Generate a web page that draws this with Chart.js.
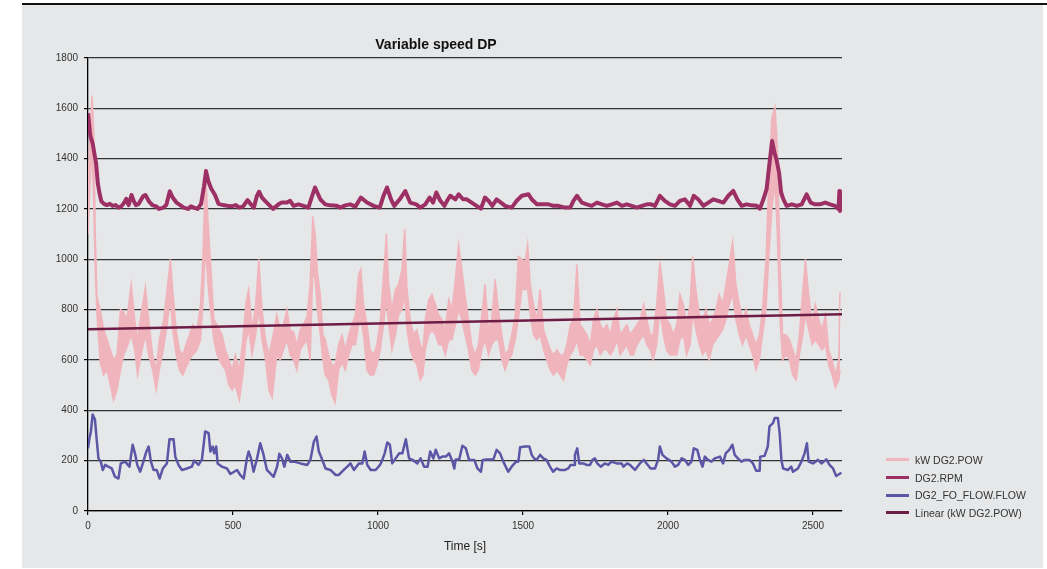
<!DOCTYPE html>
<html><head><meta charset="utf-8">
<script src="https://cdn.jsdelivr.net/npm/chart.js@4"></script>
<style>
html,body{margin:0;padding:0;background:#fff;width:1047px;height:569px;overflow:hidden;}
#panel{position:absolute;left:22px;top:5px;width:1021px;height:563px;background:#e6e7e8;}
#topline{position:absolute;left:22px;top:3px;width:1025px;height:2px;background:#111;}
#wrap{position:absolute;left:0;top:0;width:1047px;height:569px;}
#legend{position:absolute;left:886px;top:451px;font:10.5px "Liberation Sans",Arial,sans-serif;color:#333;}
.row{height:17.7px;display:flex;align-items:center;white-space:nowrap;}
.sw{width:23px;height:3px;margin-right:6px;}
</style></head>
<body>
<div id="panel"></div>
<div id="topline"></div>
<div id="wrap"><canvas id="c" width="1047" height="569"></canvas></div>
<div id="legend"></div>
<script>
// ---- data ----
const powT = [0,5,14,20,25,31,42,54,66,77,88,100,112,123,134,149,161,171,183,198,209,223,235,246,261,273,284,292,304,315,327,338,350,361,376,388,396,405,414,422,434,445,462,474,486,497,508,522,534,545,554,566,578,589,600,612,624,635,651,663,674,686,697,709,720,732,743,755,766,775,783,791,801,810,818,830,841,852,864,876,887,899,910,922,933,941,950,962,973,985,996,1008,1017,1029,1037,1048,1060,1071,1083,1092,1100,1111,1123,1134,1146,1155,1163,1175,1186,1198,1209,1221,1232,1244,1255,1267,1278,1289,1300,1312,1323,1335,1346,1358,1369,1381,1392,1404,1415,1427,1438,1450,1461,1473,1484,1496,1507,1516,1525,1536,1548,1559,1571,1582,1594,1605,1617,1628,1640,1651,1663,1674,1686,1697,1709,1720,1732,1743,1755,1766,1778,1789,1801,1812,1824,1835,1847,1858,1870,1881,1893,1904,1916,1927,1939,1949,1961,1972,1984,1995,2007,2018,2030,2041,2053,2064,2076,2085,2096,2108,2119,2131,2142,2154,2165,2177,2188,2200,2211,2223,2234,2246,2257,2269,2280,2292,2303,2315,2326,2338,2347,2358,2369,2377,2386,2395,2407,2419,2430,2442,2453,2465,2474,2485,2497,2508,2520,2531,2543,2554,2566,2577,2589,2593];
const powHi = [1250,1450,1650,1500,1100,850,800,720,680,640,600,620,800,790,760,900,760,680,780,890,760,620,560,680,760,880,1000,880,720,640,620,660,700,740,720,820,1000,1360,1150,1000,760,740,700,640,600,560,620,560,680,830,880,720,820,1000,800,680,620,680,780,720,740,800,720,710,660,720,740,770,900,1170,1100,950,860,700,680,620,580,580,660,700,640,700,740,780,940,960,820,740,640,620,660,760,900,1100,900,800,880,900,960,1120,880,760,700,720,660,640,760,840,860,820,780,760,720,840,800,920,1060,960,860,760,660,620,660,780,900,720,760,920,800,700,620,640,700,780,1010,1000,990,1060,900,820,760,880,720,680,640,620,640,620,620,660,740,760,980,740,720,700,660,760,800,740,720,740,700,760,800,700,720,740,700,720,740,760,820,760,700,700,820,990,880,760,740,700,740,860,820,740,820,1010,880,780,760,800,740,760,800,860,820,900,980,1070,900,820,760,800,740,700,660,700,800,1000,1300,1560,1605,1450,1000,700,700,680,640,600,700,880,1000,860,740,820,760,720,780,640,600,540,600,870];
const powLo = [1100,1250,1450,1200,950,780,590,540,560,500,440,480,560,620,650,700,640,540,620,700,620,560,480,560,650,740,850,720,620,560,540,570,600,620,640,680,820,1050,900,800,680,620,580,560,500,480,500,440,540,680,720,620,700,800,680,600,480,450,620,600,640,680,620,600,560,640,660,680,600,950,920,800,700,600,540,520,460,430,560,590,560,620,660,660,740,760,700,560,540,540,580,640,720,840,740,640,700,780,800,860,720,640,600,580,520,540,640,700,720,700,660,660,620,680,680,740,800,760,700,640,560,540,560,640,680,620,660,680,680,600,560,600,620,680,760,880,880,880,780,700,680,700,640,600,560,540,560,540,520,580,620,640,680,620,620,600,580,640,660,620,640,640,620,640,680,620,640,660,620,620,660,680,700,660,640,600,660,800,700,640,620,620,620,680,700,620,660,780,720,660,620,640,600,660,680,700,720,760,820,860,760,700,660,700,660,620,560,600,700,800,1000,1200,1300,1100,760,600,620,600,540,520,620,700,780,720,660,680,660,640,660,580,540,490,520,560];
const rpmT = [0,8,16,22,28,34,40,46,55,65,75,85,95,105,115,125,132,140,150,158,165,175,190,198,210,222,235,245,260,270,282,292,305,318,330,345,355,365,378,390,400,407,415,425,438,450,465,480,495,510,522,535,550,560,572,582,590,600,612,625,638,657,668,686,697,709,726,743,760,769,783,801,818,835,858,870,887,904,922,941,962,985,1006,1019,1031,1045,1056,1075,1094,1111,1132,1146,1163,1178,1190,1201,1215,1229,1238,1249,1267,1278,1293,1306,1323,1340,1355,1369,1381,1394,1409,1424,1438,1461,1478,1496,1519,1530,1548,1571,1588,1605,1622,1645,1663,1674,1686,1703,1720,1737,1755,1772,1789,1806,1824,1841,1858,1875,1893,1910,1927,1942,1955,1972,1989,2007,2024,2041,2058,2076,2089,2104,2122,2139,2156,2173,2191,2208,2225,2239,2254,2271,2288,2306,2317,2329,2340,2349,2359,2367,2375,2383,2390,2398,2409,2427,2444,2461,2478,2492,2507,2524,2542,2559,2576,2588,2591,2593];
const rpmV = [1580,1490,1460,1420,1380,1300,1260,1230,1220,1215,1220,1212,1215,1205,1210,1225,1240,1215,1255,1230,1215,1220,1250,1255,1230,1215,1210,1200,1205,1215,1270,1245,1225,1215,1205,1200,1210,1205,1200,1220,1290,1350,1310,1280,1255,1220,1215,1212,1210,1215,1205,1210,1235,1220,1205,1250,1268,1245,1230,1215,1200,1218,1225,1225,1232,1212,1218,1212,1205,1238,1285,1238,1218,1214,1212,1205,1214,1218,1209,1245,1225,1212,1205,1252,1285,1238,1212,1238,1271,1225,1218,1205,1218,1245,1225,1265,1232,1212,1232,1252,1238,1258,1238,1238,1225,1212,1201,1245,1232,1212,1238,1225,1212,1205,1232,1252,1258,1238,1218,1218,1218,1212,1212,1205,1205,1232,1252,1225,1218,1212,1225,1218,1212,1218,1225,1212,1218,1212,1205,1212,1218,1218,1212,1252,1232,1218,1212,1232,1238,1212,1252,1238,1212,1225,1238,1232,1225,1252,1271,1238,1212,1218,1214,1212,1201,1238,1278,1371,1470,1424,1391,1344,1265,1238,1212,1218,1212,1218,1258,1225,1218,1218,1225,1218,1212,1199,1271,1192];
const flowT = [0,5,10,16,24,30,36,44,51,59,70,82,93,105,113,128,143,147,154,162,170,180,191,200,209,217,226,237,247,258,272,281,295,301,312,324,341,358,366,381,393,404,416,422,430,435,442,447,462,479,491,514,525,537,548,554,562,571,583,594,604,617,640,652,660,669,677,687,698,710,733,756,767,779,788,796,808,819,836,854,865,882,894,905,917,934,946,954,963,975,992,1007,1015,1023,1032,1041,1049,1061,1073,1084,1096,1107,1119,1136,1147,1159,1171,1180,1191,1199,1211,1222,1234,1245,1257,1263,1268,1280,1291,1303,1314,1332,1343,1355,1361,1375,1398,1409,1421,1432,1449,1461,1476,1484,1490,1507,1522,1530,1538,1547,1559,1570,1581,1593,1604,1616,1627,1645,1656,1664,1676,1679,1687,1694,1708,1719,1731,1740,1748,1756,1768,1782,1794,1805,1823,1840,1846,1859,1869,1886,1903,1917,1926,1940,1955,1966,1972,1981,1995,2012,2024,2035,2047,2058,2070,2081,2089,2101,2110,2119,2127,2138,2150,2161,2179,2190,2199,2211,2222,2230,2241,2253,2264,2281,2293,2304,2316,2318,2333,2344,2350,2362,2368,2379,2385,2391,2397,2414,2425,2431,2448,2460,2471,2479,2485,2500,2517,2529,2546,2557,2569,2580,2598];
const flowV = [249,289,316,383,363,283,209,196,163,183,176,169,136,129,189,196,176,209,263,229,183,156,196,232,256,196,163,163,129,169,189,285,285,216,183,163,169,176,200,183,205,316,309,236,256,229,256,189,176,169,147,163,143,129,209,236,209,156,209,269,229,163,136,176,227,209,176,223,196,196,189,183,203,276,296,236,203,169,163,143,143,163,176,189,163,189,189,236,183,163,163,183,203,229,272,263,189,209,229,229,285,209,203,189,209,176,176,236,209,243,209,216,216,229,196,169,205,205,259,249,203,203,169,156,203,205,205,243,229,196,156,176,196,196,253,256,256,223,209,203,223,209,203,176,156,169,163,163,169,183,183,223,249,189,189,183,183,203,209,189,176,189,183,196,189,189,176,189,183,163,189,203,189,169,169,203,256,223,209,196,176,183,209,203,183,196,249,243,203,176,216,203,196,209,216,189,229,243,263,223,209,196,203,203,189,160,160,216,219,256,336,349,369,369,309,203,169,163,176,156,169,196,229,269,196,189,203,189,205,183,169,139,152];
const trendT = [0, 2600];
const trendV = [722, 781];
const xTicks = [0, 500, 1000, 1500, 2000, 2500];
const yTicks = [0, 200, 400, 600, 800, 1000, 1200, 1400, 1600, 1800];
const xMin = 0, xMax = 2600;
const yMin = 0, yMax = 1800;
const seriesNames = ['kW DG2.POW', 'DG2.RPM', 'DG2_FO_FLOW.FLOW', 'Linear (kW DG2.POW)'];
const seriesColors = ['#f0b5bc', '#9c3065', '#5b56a6', '#6d1c46'];

const zip = (t, v) => t.map((x, i) => ({x: x, y: v[i]}));
const FONT = '"Liberation Sans", Arial, sans-serif';

new Chart(document.getElementById('c'), {
  type: 'line',
  data: {
    datasets: [
      {label: seriesNames[0], data: zip(powT, powHi), borderColor: seriesColors[0], backgroundColor: seriesColors[0], borderWidth: 1.5, pointRadius: 0, fill: '+1', order: 4, tension: 0},
      {label: seriesNames[0] + ' (low)', data: zip(powT, powLo), borderColor: seriesColors[0], backgroundColor: seriesColors[0], borderWidth: 1.5, pointRadius: 0, fill: false, order: 5, tension: 0},
      {label: seriesNames[1], data: zip(rpmT, rpmV), borderColor: seriesColors[1], borderWidth: 4, pointRadius: 0, fill: false, order: 1, borderJoinStyle: 'round'},
      {label: seriesNames[2], data: zip(flowT, flowV), borderColor: seriesColors[2], borderWidth: 2.5, pointRadius: 0, fill: false, order: 2, borderJoinStyle: 'round'},
      {label: seriesNames[3], data: zip(trendT, trendV), borderColor: seriesColors[3], borderWidth: 2.5, pointRadius: 0, fill: false, order: 0}
    ]
  },
  options: {
    responsive: false,
    animation: false,
    devicePixelRatio: 1,
    layout: {padding: {left: 30, right: 205, top: 37, bottom: 15}},
    plugins: {
      legend: {display: false},
      tooltip: {enabled: false},
      title: {display: true, text: 'Variable speed DP', color: '#111', font: {family: FONT, size: 14, weight: 'bold'}, padding: {top: 0, bottom: 4}}
    },
    scales: {
      x: {
        type: 'linear', min: xMin, max: xMax,
        afterBuildTicks: s => { s.ticks = xTicks.map(v => ({value: v})); },
        ticks: {color: '#333', font: {family: FONT, size: 10}, padding: 5, maxRotation: 0, autoSkip: false, callback: v => String(v)},
        grid: {drawOnChartArea: false, drawTicks: true, tickLength: 4, tickColor: '#000', lineWidth: 1.2},
        border: {color: '#000', width: 1.3},
        title: {display: true, text: 'Time [s]', color: '#222', font: {family: FONT, size: 12}, padding: {top: 4, bottom: 0}},
        afterFit: s => { s.height = 43; }
      },
      y: {
        min: yMin, max: yMax,
        afterBuildTicks: s => { s.ticks = yTicks.map(v => ({value: v})); },
        ticks: {color: '#333', font: {family: FONT, size: 10}, padding: 6, autoSkip: false, callback: v => String(v)},
        grid: {color: '#333', lineWidth: 1.2, tickLength: 4, tickColor: '#000'},
        border: {color: '#000', width: 1.3},
        afterFit: s => { s.width = 58; }
      }
    }
  }
});

const lg = document.getElementById('legend');
seriesNames.forEach((n, i) => {
  const r = document.createElement('div'); r.className = 'row';
  const sw = document.createElement('span'); sw.className = 'sw'; sw.style.background = seriesColors[i];
  const tx = document.createElement('span'); tx.textContent = n;
  r.appendChild(sw); r.appendChild(tx); lg.appendChild(r);
});
</script>
</body></html>
